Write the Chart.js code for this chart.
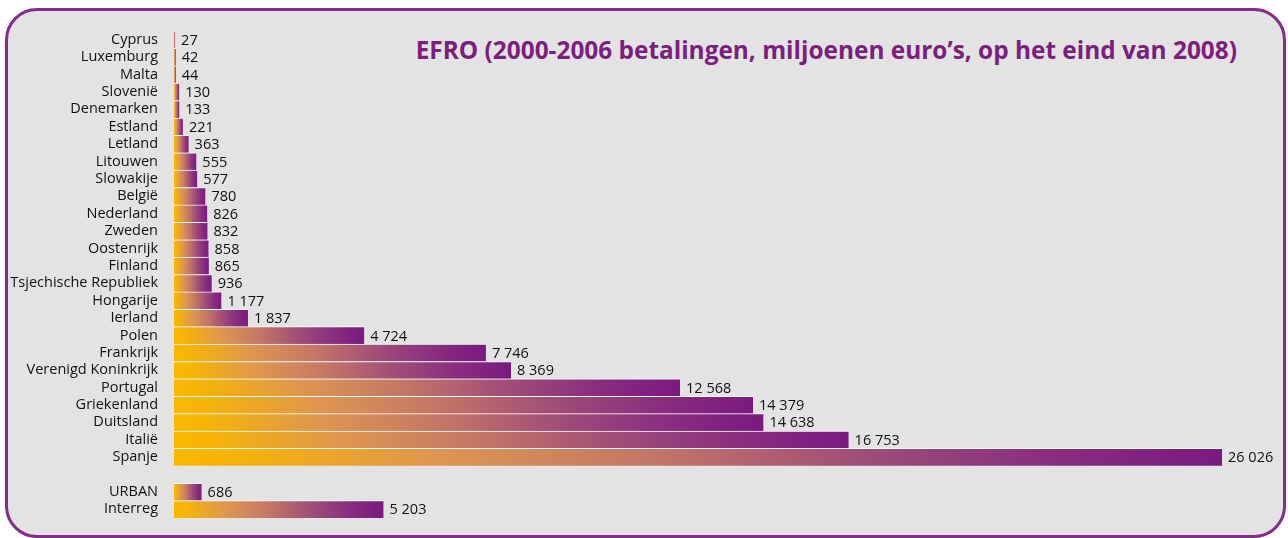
<!DOCTYPE html>
<html>
<head>
<meta charset="utf-8">
<script src="https://cdn.jsdelivr.net/npm/chart.js@4/dist/chart.umd.min.js"></script>
<style>
  body { margin: 0; background: #fff; width: 1288px; height: 538px; overflow: hidden; font-family: "Open Sans", sans-serif; }
  #panel { position: absolute; left: 5px; top: 8px; width: 1281px; height: 530px; box-sizing: border-box;
           border: 3px solid #862b8b; border-radius: 32px; background: #e3e3e3; }
  #titel { position: absolute; right: 51px; top: 33px; margin: 0; font-size: 24.4px; line-height: 34px; font-weight: 700; color: #7b1e7e; white-space: nowrap; }
  #wrap { position: absolute; left: 0; top: 0; width: 1288px; height: 538px; }
</style>
</head>
<body>
<div id="panel"></div>
<h1 id="titel">EFRO (2000-2006 betalingen, miljoenen euro’s, op het eind van 2008)</h1>
<div id="wrap"><canvas id="myChart"></canvas></div>
<script>
var landen = ["Cyprus","Luxemburg","Malta","Slovenië","Denemarken","Estland","Letland","Litouwen","Slowakije","België",
  "Nederland","Zweden","Oostenrijk","Finland","Tsjechische Republiek","Hongarije","Ierland","Polen","Frankrijk",
  "Verenigd Koninkrijk","Portugal","Griekenland","Duitsland","Italië","Spanje","","URBAN","Interreg"]
var betalingen = [27,42,44,130,133,221,363,555,577,780,826,832,858,865,936,1177,1837,4724,7746,8369,12568,14379,14638,16753,26026,null,686,5203]

function formatNum(v){
  return v.toString().replace(/\B(?=(\d{3})+(?!\d))/g, " ")
}

// verloop per balk: oranje links, paars aan het eind
function balkKleur(context){
  var chart = context.chart
  var v = context.raw
  if (!chart.chartArea || v == null) return "#f9b800"
  var x0 = chart.scales.x.getPixelForValue(0)
  var x1 = chart.scales.x.getPixelForValue(v)
  if (x1 - x0 < 1) x1 = x0 + 1
  var g = chart.ctx.createLinearGradient(x0, 0, x1, 0)
  g.addColorStop(0, "#f9b800")
  g.addColorStop(0.05, "#f6b506")
  g.addColorStop(0.25, "#de9650")
  g.addColorStop(0.45, "#c47766")
  g.addColorStop(0.65, "#a14e78")
  g.addColorStop(0.85, "#872c7f")
  g.addColorStop(1, "#7a1a80")
  return g
}

var waardeLabels = {
  id: "waardeLabels",
  afterDatasetsDraw: function(chart){
    var ctx = chart.ctx
    var meta = chart.getDatasetMeta(0)
    ctx.save()
    ctx.font = "14.5px 'Open Sans'"
    ctx.fillStyle = "#111"
    ctx.textBaseline = "middle"
    ctx.textAlign = "left"
    meta.data.forEach(function(bar, i){
      var v = betalingen[i]
      if (v == null) return
      ctx.fillText(formatNum(v), bar.x + 6, bar.y + 1)
    })
    ctx.restore()
  }
}

new Chart(document.getElementById("myChart"), {
  type: "bar",
  data: {
    labels: landen,
    datasets: [{
      data: betalingen,
      backgroundColor: balkKleur,
      borderColor: "rgba(255,255,255,0.85)",
      borderWidth: {top: 1, bottom: 0, left: 0, right: 0},
      borderSkipped: false,
      barPercentage: 1,
      categoryPercentage: 1
    }]
  },
  options: {
    indexAxis: "y",
    responsive: true,
    maintainAspectRatio: false,
    animation: false,
    layout: {padding: {top: 31, bottom: 20, left: 0, right: 66}},
    plugins: {legend: {display: false}, tooltip: {enabled: false}},
    scales: {
      x: {display: false, min: 0, max: 26026},
      y: {
        grid: {display: false, drawTicks: false},
        border: {display: false},
        ticks: {padding: 16, color: "#111", autoSkip: false, font: {family: "Open Sans", size: 14.5}},
        afterFit: function(scale){
          scale.width = 174
          scale.paddingTop = 0
          scale.paddingBottom = 0
        }
      }
    }
  },
  plugins: [waardeLabels]
})
</script>
</body>
</html>
